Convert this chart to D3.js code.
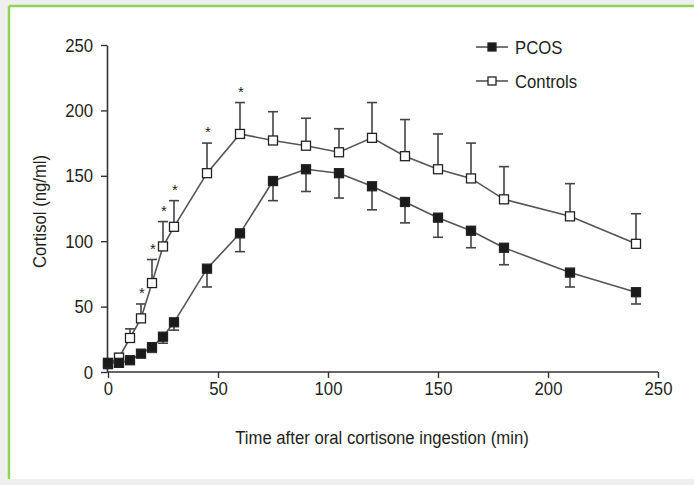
<!DOCTYPE html>
<html>
<head>
<meta charset="utf-8">
<script src="https://cdn.jsdelivr.net/npm/d3@7"></script>
<style>
  html, body { margin: 0; padding: 0; background: #efefef; }
  svg { display: block; }
  text { font-family: "Liberation Sans", Arial, Helvetica, sans-serif; fill: #231f20; }
</style>
</head>
<body>
<svg id="chart" width="694" height="485"></svg>
<script>
// ---- data ----
const times = [0, 5, 10, 15, 20, 25, 30, 45, 60, 75, 90, 105, 120, 135, 150, 165, 180, 210, 240];
const pcosMean = [7, 7, 9, 14, 19, 27, 38, 79, 106, 146, 155, 152, 142, 130, 118, 108, 95, 76, 61];
const pcosSE   = [1, 1, 2, 2, 4, 5, 6, 14, 14, 15, 17, 19, 18, 16, 15, 13, 13, 11, 9];
const ctrlMean = [6, 11, 26, 41, 68, 96, 111, 152, 182, 177, 173, 168, 179, 165, 155, 148, 132, 119, 98];
const ctrlSE   = [2, 3, 7, 11, 18, 19, 20, 23, 24, 22, 21, 18, 27, 28, 27, 27, 25, 25, 23];
const starTimes = [15, 20, 25, 30, 45, 60];
const xTicks = [0, 50, 100, 150, 200, 250];
const yTicks = [0, 50, 100, 150, 200, 250];
const seriesNames = ["PCOS", "Controls"];
const xTitle = "Time after oral cortisone ingestion (min)";
const yTitle = "Cortisol (ng/ml)";

// ---- drawing ----
const svg = d3.select("#chart");
const SX = 0.88;          // horizontal condensing of the type
const fontSize = 19;

// page frame
svg.append("rect").attr("x", 9).attr("y", 6).attr("width", 700).attr("height", 473)
  .attr("fill", "#ffffff");
svg.append("line").attr("x1", 9).attr("x2", 694).attr("y1", 6).attr("y2", 6)
  .attr("stroke", "#8ed35a").attr("stroke-width", 2.5);
svg.append("line").attr("x1", 9).attr("x2", 9).attr("y1", 6).attr("y2", 479)
  .attr("stroke", "#8ed35a").attr("stroke-width", 2.5);

const x = d3.scaleLinear().domain([0, 250]).range([108, 658]);
const y = d3.scaleLinear().domain([0, 250]).range([372, 45]);

const axisColor = "#333";

// x axis
const gx = svg.append("g").attr("transform", `translate(0,${y(0)})`)
  .call(d3.axisBottom(x).tickValues(xTicks).tickSize(6).tickPadding(4).tickSizeOuter(0));
// y axis
const gy = svg.append("g").attr("transform", `translate(${x(0) - 1},0)`)
  .call(d3.axisLeft(y).tickValues(yTicks).tickSize(6).tickPadding(8).tickSizeOuter(0));
[gx, gy].forEach(g => {
  g.select(".domain").attr("stroke", axisColor).attr("stroke-width", 1.6);
  g.selectAll(".tick line").attr("stroke", axisColor).attr("stroke-width", 1.4);
  g.selectAll(".tick text").attr("font-size", fontSize)
    .attr("font-family", '"Liberation Sans", Arial, sans-serif').attr("fill", "#231f20");
});
gx.selectAll(".tick text").attr("transform", `scale(${SX},1)`);
gy.selectAll(".tick text").attr("x", -14 / SX).attr("transform", `scale(${SX},1)`);
gx.select(".domain").attr("d", `M${x(0) - 1},0H${x(250)}`);

// helper for condensed text
function ctext(px, py, str, anchor, rot) {
  return svg.append("text")
    .attr("transform", `translate(${px},${py})${rot ? ` rotate(${rot})` : ""} scale(${SX},1)`)
    .attr("text-anchor", anchor).attr("font-size", fontSize).text(str);
}

// axis titles
ctext((x(0) + x(250)) / 2 - 1, 444, xTitle, "middle");
ctext(46, (y(0) + y(250)) / 2 + 3, yTitle, "middle", -90);

const lineColor = "#555";
const ebColor = "#444";
const capHalf = 5;
const msize = 9;

function series(mean, se, dir, filled) {
  const pts = times.map((t, i) => ({ t, m: mean[i], s: se[i] }));
  const g = svg.append("g");
  // error bars
  pts.forEach(p => {
    const y0 = y(p.m), y1 = y(p.m + dir * p.s);
    g.append("line").attr("x1", x(p.t)).attr("x2", x(p.t)).attr("y1", y0).attr("y2", y1)
      .attr("stroke", ebColor).attr("stroke-width", 1.6);
    g.append("line").attr("x1", x(p.t) - capHalf).attr("x2", x(p.t) + capHalf)
      .attr("y1", y1).attr("y2", y1).attr("stroke", ebColor).attr("stroke-width", 1.6);
  });
  // line
  g.append("path").datum(pts)
    .attr("d", d3.line().x(p => x(p.t)).y(p => y(p.m)))
    .attr("fill", "none").attr("stroke", lineColor).attr("stroke-width", 1.6);
  // markers
  g.selectAll("rect.m").data(pts).join("rect")
    .attr("x", p => x(p.t) - msize / 2).attr("y", p => y(p.m) - msize / 2)
    .attr("width", msize).attr("height", msize)
    .attr("fill", filled ? "#1a1a1a" : "#ffffff")
    .attr("stroke", "#222").attr("stroke-width", 1.3);
}
series(ctrlMean, ctrlSE, 1, false);
series(pcosMean, pcosSE, -1, true);

// significance stars
starTimes.forEach(t => {
  const i = times.indexOf(t);
  svg.append("text").attr("x", x(t) + 1).attr("y", y(ctrlMean[i] + ctrlSE[i]) - 6)
    .attr("text-anchor", "middle").attr("font-size", 15).attr("fill", "#333").text("*");
});

// legend
const legend = svg.append("g");
[{ name: seriesNames[0], filled: true, yy: 47 }, { name: seriesNames[1], filled: false, yy: 81 }]
  .forEach(d => {
    legend.append("line").attr("x1", 476).attr("x2", 508).attr("y1", d.yy).attr("y2", d.yy)
      .attr("stroke", lineColor).attr("stroke-width", 1.6);
    legend.append("rect").attr("x", 492 - 4).attr("y", d.yy - 4).attr("width", 8).attr("height", 8)
      .attr("fill", d.filled ? "#1a1a1a" : "#fff").attr("stroke", "#222").attr("stroke-width", 1.3);
    ctext(515, d.yy + 7, d.name, "start");
  });
</script>
</body>
</html>
